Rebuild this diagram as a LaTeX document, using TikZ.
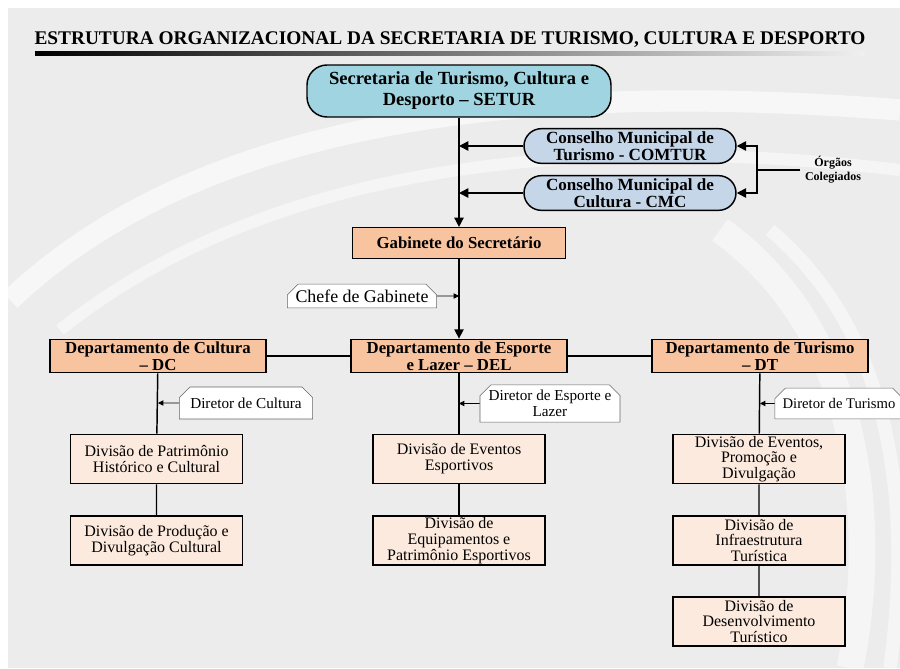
\documentclass[tikz,border=0pt]{standalone}
\usepackage{fontspec}
\setmainfont{Liberation Serif}
\usetikzlibrary{positioning,arrows.meta,shapes.misc}

\definecolor{bgslide}{RGB}{236,236,236}
\definecolor{seturblue}{RGB}{160,212,224}
\definecolor{conblue}{RGB}{198,214,233}
\definecolor{deptorange}{RGB}{248,196,160}
\definecolor{divpeach}{RGB}{252,234,222}

\begin{document}
\begin{tikzpicture}[x=0.75pt,y=-0.75pt,
  secbox/.style={draw,line width=1.1pt,rounded corners=15pt,fill=seturblue,align=center,
    font=\bfseries\fontsize{13.9}{15.7}\selectfont,minimum width=228pt,minimum height=39pt,inner sep=1pt},
  conbox/.style={draw,line width=1.1pt,rounded rectangle,fill=conblue,align=center,
    font=\bfseries\fontsize{12.8}{12.6}\selectfont,minimum width=161pt,minimum height=26pt,inner sep=1pt},
  deptbox/.style={draw,line width=1.1pt,fill=deptorange,align=center,
    font=\bfseries\fontsize{12.6}{12.4}\selectfont,minimum width=162pt,minimum height=25pt,inner sep=1pt},
  divbox/.style={draw,line width=1.1pt,fill=divpeach,align=center,
    font=\fontsize{12}{11.8}\selectfont,minimum width=129pt,minimum height=37pt,inner sep=1pt},
  tagbox/.style={draw=gray!80!black,fill=white,chamfered rectangle,
    chamfered rectangle corners={north west,north east},chamfered rectangle xsep=5pt,
    align=center,font=\fontsize{11.4}{11.8}\selectfont,minimum height=23pt,inner sep=1pt},
  arr/.style={line width=1.1pt,-{Triangle[length=7pt,width=7pt]}},
  sarr/.style={line width=0.6pt,-{Triangle[length=4pt,width=4pt]}}
]
\useasboundingbox (0,0) rectangle (900,668);
% background of the slide
\fill[white] (0,0) rectangle (900,668);
\fill[bgslide] (8,8) rectangle (900,668);
\draw[white,line width=16pt,opacity=.6] (10,300) .. controls (200,120) and (520,80) .. (900,110);
\draw[white,line width=9pt,opacity=.5] (60,330) .. controls (260,170) and (560,130) .. (900,170);
\draw[white,line width=20pt,opacity=.5] (720,230) .. controls (860,330) and (880,520) .. (850,668);
\draw[white,line width=10pt,opacity=.5] (770,230) .. controls (900,340) and (910,520) .. (890,668);

% title
\node[font=\bfseries\fontsize{14.5}{16}\selectfont] (title) at (450,40)
  {ESTRUTURA ORGANIZACIONAL DA SECRETARIA DE TURISMO, CULTURA E DESPORTO};
\shade[left color=black,right color=gray!12] (35,51) rectangle (865,55);

% top of the chart
\node[secbox] (setur) at (459,91) {Secretaria de Turismo, Cultura e\\Desporto -- SETUR};
\node[conbox] (comtur) at (630,146) {Conselho Municipal de\\Turismo - COMTUR};
\node[conbox] (cmc) at (630,193) {Conselho Municipal de\\Cultura - CMC};
\node[align=center,font=\bfseries\fontsize{9}{10.5}\selectfont] (orgaos) at (833,170) {Órgãos\\Colegiados};
\coordinate (br) at (757,170);
\node[deptbox,minimum width=160pt,minimum height=23pt] (gab) at (459,243) {Gabinete do Secretário};
\node[tagbox,minimum width=112pt,minimum height=17pt,font=\fontsize{13.4}{14}\selectfont] (chefe) at (362,296) {Chefe de Gabinete};

% departments
\node[deptbox] (dc) at (158,356) {Departamento de Cultura\\-- DC};
\node[deptbox] (del) at (459,356) {Departamento de Esporte\\e Lazer -- DEL};
\node[deptbox] (dt) at (760,356) {Departamento de Turismo\\-- DT};

\node[tagbox,minimum width=100pt,minimum height=24pt] (dirc) at (246,403) {Diretor de Cultura};
\node[tagbox,minimum width=105pt] (dirl) at (550,403.5) {Diretor de Esporte e\\Lazer};
\node[tagbox,minimum width=86pt,font=\fontsize{11}{11.8}\selectfont] (dirt) at (839,403.5) {Diretor de Turismo};

% divisions
\node[divbox] (dc1) at (156.5,459) {Divisão de Patrimônio\\Histórico e Cultural};
\node[divbox] (dc2) at (156.5,540.5) {Divisão de Produção e\\Divulgação Cultural};
\node[divbox] (del1) at (459,459) {Divisão de Eventos\\Esportivos};
\node[divbox] (del2) at (459,540.5) {Divisão de\\Equipamentos e\\Patrimônio Esportivos};
\node[divbox] (dt1) at (759,459) {Divisão de Eventos,\\Promoção e\\Divulgação};
\node[divbox] (dt2) at (759,540.5) {Divisão de\\Infraestrutura\\Turística};
\node[divbox] (dt3) at (759,621.5) {Divisão de\\Desenvolvimento\\Turístico};

% connectors
\draw[arr] (setur) -- (gab);
\draw[arr] (comtur) -- (comtur -| setur.south);
\draw[arr] (cmc) -- (cmc -| setur.south);
\draw[line width=1.1pt] (orgaos) -- (br);
\draw[arr] (br) |- (comtur);
\draw[arr] (br) |- (cmc);
\draw[arr] (gab) -- (del);
\draw[sarr] (chefe) -- (chefe -| gab.south);
\draw[line width=1.1pt] (dc) -- (del) (del) -- (dt);
\draw[line width=1.1pt] (dc) -- (dc1) (dc1) -- (dc2);
\draw[line width=1.1pt] (del) -- (del1) (del1) -- (del2);
\draw[line width=1.1pt] (dt) -- (dt1) (dt1) -- (dt2) (dt2) -- (dt3);
\draw[sarr] (dirc) -- (dirc -| dc.south);
\draw[sarr] (dirl) -- (dirl -| del.south);
\draw[sarr] (dirt) -- (dirt -| dt.south);
\end{tikzpicture}
\end{document}
